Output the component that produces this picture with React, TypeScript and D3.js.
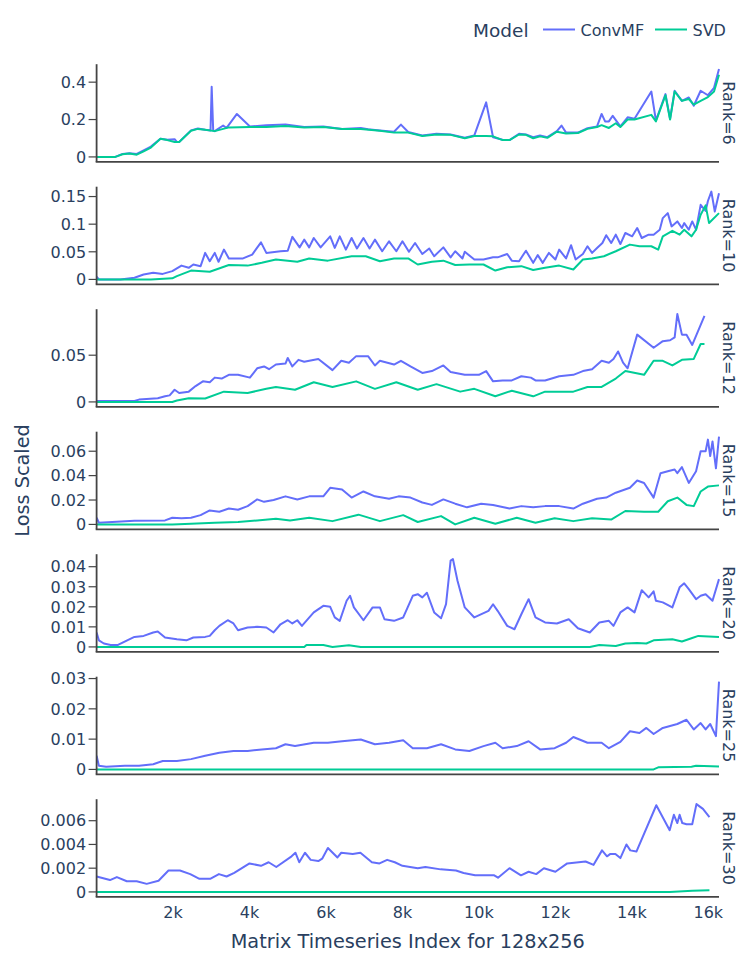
import React from 'react';
import * as d3 from 'd3';

type Pt = [number, number];

const ranks = ['Rank=6', 'Rank=10', 'Rank=12', 'Rank=15', 'Rank=20', 'Rank=25', 'Rank=30'];
const models = ['ConvMF', 'SVD'];
const colors = ['#636efa', '#00cc96'];

// x = matrix timeseries index, y = loss scaled
const convmf6: Pt[] = [[0, 0], [490, 0], [680, 0.016], [860, 0.02], [1050, 0.016], [1230, 0.035], [1420, 0.055], [1670, 0.097], [1850, 0.092], [2040, 0.095], [2100, 0.08], [2160, 0.08], [2470, 0.142], [2650, 0.152], [2840, 0.145], [2980, 0.142], [3010, 0.375], [3050, 0.14], [3090, 0.138], [3310, 0.168], [3400, 0.155], [3670, 0.23], [4010, 0.163], [4440, 0.17], [4940, 0.173], [5430, 0.16], [5930, 0.163], [6420, 0.15], [6910, 0.155], [7100, 0.148], [7410, 0.142], [7780, 0.135], [7960, 0.173], [8150, 0.133], [8520, 0.115], [8890, 0.124], [9260, 0.12], [9630, 0.103], [9880, 0.115], [10190, 0.292], [10370, 0.105], [10620, 0.092], [10800, 0.09], [11050, 0.124], [11230, 0.12], [11420, 0.106], [11600, 0.115], [11790, 0.106], [12040, 0.138], [12160, 0.168], [12280, 0.13], [12590, 0.13], [12840, 0.154], [13090, 0.163], [13210, 0.23], [13300, 0.19], [13400, 0.19], [13500, 0.22], [13700, 0.163], [13890, 0.212], [14070, 0.204], [14510, 0.35], [14630, 0.195], [14880, 0.336], [15000, 0.204], [15120, 0.354], [15310, 0.3], [15490, 0.318], [15620, 0.274], [15800, 0.354], [15990, 0.33], [16150, 0.37], [16280, 0.47]];
const svd6: Pt[] = [[0, 0], [490, 0], [680, 0.014], [860, 0.018], [1050, 0.012], [1230, 0.03], [1420, 0.05], [1670, 0.097], [1850, 0.09], [2040, 0.08], [2160, 0.08], [2470, 0.14], [2650, 0.15], [2840, 0.145], [3090, 0.138], [3460, 0.158], [4010, 0.16], [4440, 0.16], [4940, 0.165], [5430, 0.158], [5930, 0.16], [6420, 0.15], [6910, 0.15], [7410, 0.14], [7780, 0.13], [8150, 0.13], [8520, 0.112], [8890, 0.12], [9260, 0.118], [9630, 0.1], [9880, 0.112], [10190, 0.112], [10370, 0.11], [10620, 0.09], [10800, 0.09], [11050, 0.12], [11230, 0.118], [11420, 0.1], [11600, 0.11], [11790, 0.102], [12040, 0.135], [12280, 0.125], [12590, 0.128], [12840, 0.15], [13090, 0.16], [13210, 0.17], [13400, 0.155], [13580, 0.18], [13700, 0.16], [13890, 0.2], [14070, 0.2], [14510, 0.225], [14630, 0.19], [14880, 0.33], [15000, 0.2], [15120, 0.35], [15310, 0.3], [15490, 0.31], [15620, 0.28], [15800, 0.3], [15990, 0.32], [16150, 0.35], [16280, 0.44]];

const convmf10: Pt[] = [[0, 0.005], [60, 0], [620, 0], [990, 0.003], [1230, 0.009], [1480, 0.012], [1730, 0.01], [1980, 0.015], [2220, 0.025], [2410, 0.021], [2530, 0.027], [2720, 0.024], [2840, 0.048], [2960, 0.033], [3090, 0.048], [3190, 0.032], [3330, 0.054], [3460, 0.038], [3830, 0.038], [4070, 0.045], [4300, 0.067], [4440, 0.048], [4810, 0.051], [5000, 0.052], [5120, 0.077], [5310, 0.058], [5430, 0.072], [5560, 0.058], [5680, 0.075], [5860, 0.058], [6110, 0.078], [6230, 0.057], [6360, 0.078], [6520, 0.054], [6670, 0.075], [6810, 0.056], [6980, 0.075], [7140, 0.056], [7280, 0.072], [7470, 0.051], [7650, 0.069], [7840, 0.051], [8000, 0.069], [8170, 0.05], [8330, 0.066], [8520, 0.046], [8700, 0.056], [8830, 0.042], [9070, 0.058], [9260, 0.04], [9380, 0.051], [9570, 0.038], [9630, 0.05], [9880, 0.036], [10120, 0.036], [10370, 0.04], [10490, 0.04], [10740, 0.046], [10860, 0.034], [11050, 0.033], [11230, 0.052], [11420, 0.03], [11540, 0.044], [11670, 0.03], [11830, 0.048], [12000, 0.036], [12100, 0.054], [12280, 0.038], [12410, 0.062], [12530, 0.036], [12720, 0.046], [12840, 0.06], [12960, 0.048], [13090, 0.057], [13230, 0.066], [13330, 0.08], [13460, 0.066], [13580, 0.081], [13700, 0.064], [13830, 0.084], [14010, 0.078], [14140, 0.093], [14260, 0.075], [14440, 0.081], [14570, 0.081], [14730, 0.09], [14810, 0.111], [14940, 0.12], [15040, 0.096], [15190, 0.105], [15310, 0.093], [15370, 0.102], [15490, 0.09], [15580, 0.105], [15680, 0.09], [15800, 0.135], [15930, 0.124], [15990, 0.142], [16080, 0.159], [16170, 0.123], [16280, 0.156]];
const svd10: Pt[] = [[0, 0], [1420, 0], [1980, 0.002], [2100, 0.006], [2470, 0.016], [2960, 0.014], [3460, 0.026], [3950, 0.025], [4320, 0.03], [4690, 0.036], [5250, 0.032], [5560, 0.038], [6050, 0.034], [6670, 0.042], [7040, 0.042], [7410, 0.033], [7780, 0.038], [8150, 0.038], [8400, 0.027], [8770, 0.032], [9070, 0.034], [9380, 0.026], [9750, 0.027], [10120, 0.027], [10430, 0.016], [10740, 0.022], [11110, 0.024], [11420, 0.017], [11730, 0.021], [12100, 0.025], [12470, 0.018], [12720, 0.036], [12960, 0.038], [13270, 0.042], [13580, 0.051], [13950, 0.063], [14200, 0.06], [14510, 0.06], [14690, 0.054], [14810, 0.078], [15060, 0.088], [15250, 0.081], [15370, 0.09], [15560, 0.078], [15680, 0.09], [15800, 0.117], [15930, 0.134], [16020, 0.102], [16280, 0.12]];

const convmf12: Pt[] = [[0, 0.001], [990, 0.001], [1110, 0.0025], [1600, 0.004], [1790, 0.006], [1910, 0.007], [2040, 0.013], [2160, 0.0096], [2410, 0.011], [2590, 0.017], [2780, 0.022], [2960, 0.021], [3090, 0.026], [3270, 0.025], [3460, 0.029], [3700, 0.029], [4010, 0.026], [4200, 0.036], [4380, 0.038], [4510, 0.035], [4690, 0.04], [4940, 0.041], [5000, 0.047], [5120, 0.038], [5280, 0.045], [5430, 0.043], [5800, 0.046], [6170, 0.034], [6400, 0.044], [6600, 0.042], [6790, 0.049], [7100, 0.049], [7280, 0.039], [7410, 0.044], [7780, 0.04], [7960, 0.044], [8210, 0.038], [8520, 0.031], [8770, 0.033], [9070, 0.039], [9260, 0.032], [9630, 0.029], [10000, 0.029], [10190, 0.033], [10370, 0.022], [10620, 0.023], [10860, 0.023], [11110, 0.0275], [11360, 0.026], [11480, 0.023], [11730, 0.023], [12100, 0.0275], [12470, 0.029], [12720, 0.033], [12960, 0.035], [13210, 0.044], [13400, 0.042], [13520, 0.046], [13640, 0.054], [13770, 0.042], [13890, 0.036], [14140, 0.072], [14570, 0.058], [14810, 0.065], [15000, 0.066], [15120, 0.069], [15190, 0.094], [15310, 0.072], [15430, 0.072], [15580, 0.061], [15900, 0.092]];
const svd12: Pt[] = [[0, 0], [1980, 0], [2100, 0.0015], [2410, 0.004], [2840, 0.0036], [3330, 0.011], [3950, 0.0096], [4440, 0.014], [4690, 0.016], [5190, 0.013], [5680, 0.021], [6170, 0.016], [6790, 0.022], [7280, 0.014], [7840, 0.021], [8400, 0.013], [8890, 0.019], [9510, 0.011], [9880, 0.014], [10430, 0.006], [10860, 0.012], [11420, 0.006], [11730, 0.011], [12100, 0.011], [12470, 0.011], [12840, 0.016], [13210, 0.016], [13580, 0.025], [13830, 0.033], [14320, 0.029], [14570, 0.044], [14810, 0.044], [15060, 0.039], [15310, 0.045], [15620, 0.046], [15800, 0.062], [15900, 0.062]];

const convmf15: Pt[] = [[0, 0.0055], [60, 0.0014], [990, 0.003], [1790, 0.0033], [1980, 0.0055], [2220, 0.005], [2470, 0.0055], [2720, 0.0076], [2960, 0.0115], [3210, 0.0104], [3460, 0.013], [3700, 0.012], [3950, 0.015], [4200, 0.0205], [4380, 0.0185], [4630, 0.02], [4940, 0.023], [5250, 0.0205], [5560, 0.023], [5930, 0.023], [6110, 0.03], [6420, 0.0286], [6670, 0.022], [6980, 0.027], [7280, 0.023], [7650, 0.021], [7900, 0.023], [8210, 0.022], [8520, 0.018], [8770, 0.016], [9070, 0.0205], [9380, 0.017], [9690, 0.014], [10060, 0.017], [10370, 0.016], [10800, 0.013], [11110, 0.015], [11420, 0.014], [11730, 0.015], [12100, 0.015], [12470, 0.013], [12720, 0.017], [13090, 0.021], [13330, 0.022], [13580, 0.026], [13950, 0.03], [14140, 0.036], [14320, 0.034], [14570, 0.022], [14750, 0.042], [14940, 0.0436], [15120, 0.045], [15190, 0.042], [15310, 0.047], [15490, 0.034], [15680, 0.0436], [15800, 0.06], [15930, 0.06], [15990, 0.0695], [16050, 0.056], [16110, 0.068], [16200, 0.046], [16280, 0.072]];
const svd15: Pt[] = [[0, 0], [1980, 0], [2470, 0.0005], [3090, 0.0014], [3700, 0.002], [4200, 0.0033], [4690, 0.0046], [5060, 0.0033], [5560, 0.0055], [6170, 0.0027], [6850, 0.008], [7410, 0.0027], [8020, 0.0076], [8400, 0.002], [9010, 0.0068], [9380, 0], [9880, 0.0055], [10430, 0.0005], [10990, 0.0055], [11480, 0.0014], [11980, 0.005], [12470, 0.0027], [12960, 0.005], [13460, 0.004], [13830, 0.011], [14320, 0.0104], [14690, 0.0104], [14940, 0.019], [15190, 0.022], [15430, 0.016], [15620, 0.015], [15800, 0.027], [15990, 0.031], [16280, 0.032]];

const convmf20: Pt[] = [[0, 0.0072], [60, 0.0033], [190, 0.0017], [370, 0.001], [560, 0.001], [800, 0.0033], [990, 0.005], [1230, 0.0055], [1480, 0.0072], [1600, 0.0077], [1790, 0.0047], [2100, 0.0038], [2350, 0.0033], [2530, 0.0047], [2840, 0.005], [2960, 0.0055], [3090, 0.0083], [3210, 0.0105], [3430, 0.0133], [3580, 0.0117], [3700, 0.0083], [3950, 0.0097], [4200, 0.01], [4440, 0.0097], [4630, 0.0072], [4810, 0.0113], [5000, 0.0133], [5120, 0.0117], [5250, 0.0133], [5370, 0.0105], [5680, 0.0172], [5930, 0.0205], [6110, 0.02], [6230, 0.0147], [6360, 0.013], [6540, 0.023], [6630, 0.0255], [6730, 0.0197], [6980, 0.0133], [7220, 0.0197], [7410, 0.0197], [7530, 0.0138], [7780, 0.013], [8020, 0.0147], [8270, 0.0255], [8400, 0.0263], [8520, 0.0247], [8640, 0.027], [8830, 0.0172], [9010, 0.0143], [9140, 0.0213], [9260, 0.043], [9320, 0.0438], [9440, 0.033], [9630, 0.0197], [9880, 0.0147], [10250, 0.018], [10370, 0.0213], [10490, 0.018], [10740, 0.0105], [10930, 0.0088], [11110, 0.0163], [11300, 0.0238], [11480, 0.0147], [11730, 0.0122], [12040, 0.0117], [12350, 0.0138], [12590, 0.0093], [12900, 0.0072], [13150, 0.0122], [13400, 0.013], [13520, 0.0105], [13700, 0.0172], [13890, 0.0197], [14070, 0.0172], [14260, 0.0283], [14440, 0.0247], [14570, 0.0277], [14630, 0.023], [14810, 0.0222], [15060, 0.0197], [15250, 0.0297], [15370, 0.0317], [15490, 0.0288], [15680, 0.0238], [15800, 0.0255], [15930, 0.0263], [16110, 0.023], [16280, 0.0338]];
const svd20: Pt[] = [[0, 0], [5430, 0], [5490, 0.001], [5930, 0.001], [6170, 0], [6600, 0.0008], [6910, 0], [12900, 0], [13150, 0.001], [13580, 0.0005], [13830, 0.0017], [14140, 0.002], [14380, 0.0017], [14570, 0.0033], [15060, 0.0038], [15310, 0.0027], [15560, 0.0043], [15740, 0.0055], [16280, 0.005]];

const convmf25: Pt[] = [[0, 0.0045], [60, 0.0012], [250, 0.0009], [740, 0.0012], [1110, 0.0012], [1480, 0.0017], [1730, 0.0028], [2100, 0.0028], [2470, 0.0034], [2840, 0.0045], [3210, 0.0055], [3580, 0.0061], [3950, 0.0061], [4320, 0.0066], [4690, 0.007], [4940, 0.0083], [5190, 0.0077], [5680, 0.0088], [6050, 0.0088], [6420, 0.0093], [6910, 0.0099], [7280, 0.0083], [7650, 0.0088], [8020, 0.0096], [8270, 0.007], [8640, 0.007], [9010, 0.0083], [9380, 0.0066], [9750, 0.0061], [10120, 0.0077], [10430, 0.0088], [10620, 0.007], [10990, 0.0077], [11300, 0.0093], [11600, 0.0066], [11980, 0.007], [12280, 0.0088], [12470, 0.0107], [12840, 0.0088], [13210, 0.0088], [13400, 0.007], [13700, 0.0091], [13950, 0.0126], [14200, 0.012], [14380, 0.0137], [14570, 0.0117], [14810, 0.0137], [15190, 0.015], [15430, 0.0164], [15620, 0.0132], [15800, 0.0153], [15930, 0.0132], [16050, 0.015], [16200, 0.011], [16280, 0.029]];
const svd25: Pt[] = [[0, 0], [14570, 0], [14690, 0.0007], [15560, 0.0009], [15680, 0.0012], [16280, 0.001]];

const convmf30: Pt[] = [[0, 0.0013], [350, 0.001], [530, 0.00125], [790, 0.0009], [1050, 0.0009], [1310, 0.00068], [1620, 0.00094], [1880, 0.0018], [2180, 0.0018], [2450, 0.0015], [2690, 0.0011], [2970, 0.0011], [3200, 0.0015], [3400, 0.0013], [3600, 0.0016], [4000, 0.0024], [4300, 0.0022], [4500, 0.0025], [4700, 0.0021], [5100, 0.003], [5200, 0.0033], [5300, 0.0025], [5450, 0.0033], [5600, 0.0027], [5800, 0.0026], [5900, 0.0028], [6050, 0.0037], [6300, 0.0029], [6400, 0.0033], [6700, 0.0032], [6900, 0.0033], [7200, 0.0025], [7400, 0.0024], [7600, 0.0027], [7800, 0.0025], [8000, 0.0022], [8400, 0.002], [8600, 0.0021], [9000, 0.0019], [9400, 0.0018], [9600, 0.0016], [9900, 0.0014], [10400, 0.0014], [10500, 0.0012], [10800, 0.002], [11100, 0.0014], [11300, 0.0017], [11500, 0.0015], [11700, 0.002], [12000, 0.0017], [12310, 0.0024], [12790, 0.00256], [13000, 0.00228], [13220, 0.0035], [13350, 0.003], [13440, 0.0032], [13570, 0.0032], [13700, 0.00285], [13860, 0.004], [13960, 0.0035], [14120, 0.0034], [14640, 0.0073], [14990, 0.0052], [15100, 0.0065], [15190, 0.0058], [15250, 0.0065], [15320, 0.0058], [15430, 0.0057], [15580, 0.0057], [15690, 0.0074], [15860, 0.007], [16030, 0.0063]];
const svd30: Pt[] = [[0, 0], [14990, 0], [15580, 0.0001], [16030, 0.00015]];

const convmfSeries = [convmf6, convmf10, convmf12, convmf15, convmf20, convmf25, convmf30];
const svdSeries = [svd6, svd10, svd12, svd15, svd20, svd25, svd30];

const yTickValues = [
  [0, 0.2, 0.4],
  [0, 0.05, 0.1, 0.15],
  [0, 0.05],
  [0, 0.02, 0.04, 0.06],
  [0, 0.01, 0.02, 0.03, 0.04],
  [0, 0.01, 0.02, 0.03],
  [0, 0.002, 0.004, 0.006],
];
const xTickValues = [2000, 4000, 6000, 8000, 10000, 12000, 14000, 16000];
const xMax = 16280;

const W = 747;
const H = 961;
const plotLeft = 96.6;
const plotRight = 719;
const firstTop = 64.2;
const panelH = 97.6;
const panelStep = 122.5;

const font = '"DejaVu Sans", Verdana, sans-serif';
const textColor = '#2a3f5f';
const axisColor = '#444';

const fmtY = d3.format('~g');
const fmtX = d3.format('~s');

const x = d3.scaleLinear().domain([0, xMax]).range([plotLeft, plotRight]);

const Panel: React.FC<{ i: number }> = ({ i }) => {
  const top = firstTop + i * panelStep;
  const bottom = top + panelH;
  const vals = [...convmfSeries[i], ...svdSeries[i]].map(d => d[1]);
  const lo = d3.min(vals) as number;
  const hi = d3.max(vals) as number;
  const pad = (hi - lo) * 0.05 / 0.9;
  const y = d3.scaleLinear().domain([lo - pad, hi + pad]).range([bottom, top]);
  const line = d3.line<Pt>().x(d => x(d[0])).y(d => y(d[1]));
  const clipId = `clip-${i}`;

  return (
    <g>
      <clipPath id={clipId}>
        <rect x={plotLeft} y={top - 1} width={plotRight - plotLeft + 1} height={panelH + 2} />
      </clipPath>
      <g clipPath={`url(#${clipId})`} fill="none" strokeWidth={2} strokeLinejoin="round">
        <path d={line(convmfSeries[i]) ?? ''} stroke={colors[0]} />
        <path d={line(svdSeries[i]) ?? ''} stroke={colors[1]} />
      </g>
      <line x1={plotLeft} x2={plotLeft} y1={top} y2={bottom} stroke={axisColor} strokeWidth={1.8} />
      <line x1={plotLeft - 0.9} x2={plotRight} y1={bottom} y2={bottom} stroke={axisColor} strokeWidth={1.8} />
      {yTickValues[i].map(t => (
        <g key={t}>
          <line x1={plotLeft - 8} x2={plotLeft} y1={y(t)} y2={y(t)} stroke={axisColor} strokeWidth={1.2} />
          <text x={plotLeft - 10.5} y={y(t)} dy="0.36em" textAnchor="end" fontSize={16} fill={textColor}>
            {fmtY(t)}
          </text>
        </g>
      ))}
      <text
        transform={`translate(${729},${(top + bottom) / 2}) rotate(90)`}
        textAnchor="middle"
        dy="0.36em"
        fontSize={16}
        fill={textColor}
      >
        {ranks[i]}
      </text>
    </g>
  );
};

export default function App() {
  const lastBottom = firstTop + 6 * panelStep + panelH;
  return (
    <svg
      width={W}
      height={H}
      style={{ position: 'absolute', left: 0, top: 0, background: '#fff' }}
      fontFamily={font}
    >
      <rect width={W} height={H} fill="#fff" />
      {ranks.map((r, i) => <Panel key={r} i={i} />)}
      {xTickValues.map(t => (
        <text key={t} x={x(t)} y={lastBottom + 21.5} textAnchor="middle" fontSize={16} fill={textColor}>
          {fmtX(t)}
        </text>
      ))}
      <text x={(plotLeft + plotRight) / 2} y={948} textAnchor="middle" fontSize={19.3} fill={textColor}>
        Matrix Timeseries Index for 128x256
      </text>
      <text
        transform={`translate(22,${(firstTop + lastBottom) / 2}) rotate(-90)`}
        textAnchor="middle"
        dy="0.36em"
        fontSize={19.3}
        fill={textColor}
      >
        Loss Scaled
      </text>
      <text x={473} y={36.5} fontSize={18.5} fill={textColor}>Model</text>
      {models.map((m, k) => {
        const x0 = 543 + k * 112;
        return (
          <g key={m}>
            <line x1={x0} x2={x0 + 32} y1={29.5} y2={29.5} stroke={colors[k]} strokeWidth={2} />
            <text x={x0 + 37.5} y={35.5} fontSize={16} fill={textColor}>{m}</text>
          </g>
        );
      })}
    </svg>
  );
}
